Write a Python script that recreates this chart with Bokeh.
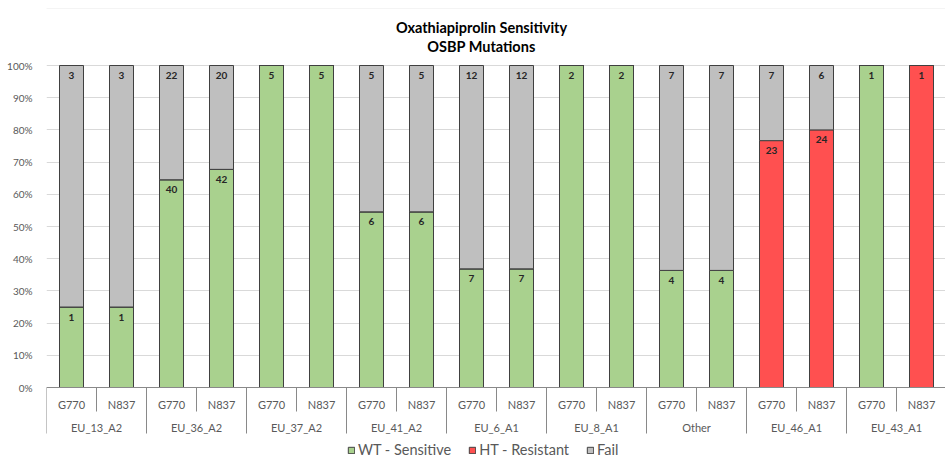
from bokeh.plotting import figure
from bokeh.models import (ColumnDataSource, Range1d, FixedTicker, NumeralTickFormatter,
                          Legend, LegendItem, Span, BoxAnnotation)
from bokeh.core.properties import value
from bokeh.embed import file_html
from bokeh.resources import INLINE

# ---------------- data ----------------
groups = ["EU_13_A2", "EU_36_A2", "EU_37_A2", "EU_41_A2", "EU_6_A1",
          "EU_8_A1", "Other", "EU_46_A1", "EU_43_A1"]
mutations = ["G770", "N837"]
wt_sensitive = [1, 1, 40, 42, 5, 5, 6, 6, 7, 7, 2, 2, 4, 4, 0, 0, 1, 0]
ht_resistant = [0, 0, 0, 0, 0, 0, 0, 0, 0, 0, 0, 0, 0, 0, 23, 24, 0, 1]
fail = [3, 3, 22, 20, 0, 0, 5, 5, 12, 12, 0, 0, 7, 7, 7, 6, 0, 0]
series_names = ["WT - Sensitive", "HT - Resistant", "Fail"]
series_colors = ["#a9d18e", "#ff5050", "#bfbfbf"]
title_lines = ["Oxathiapiprolin Sensitivity", "OSBP Mutations"]
y_ticks = [0, 0.1, 0.2, 0.3, 0.4, 0.5, 0.6, 0.7, 0.8, 0.9, 1.0]

FONT = "Lato"
PX = 322.0  # pixels per 100%
W, H = 945, 464
LEFT = 46

n = len(wt_sensitive)
xs = [i + 0.5 for i in range(n)]
totals = [a + b + c for a, b, c in zip(wt_sensitive, ht_resistant, fail)]
counts = [wt_sensitive, ht_resistant, fail]
fracs = [[c / t for c, t in zip(s, totals)] for s in counts]

bottoms, tops = [], []
acc = [0.0] * n
for f in fracs:
    b = list(acc)
    acc = [a + v for a, v in zip(acc, f)]
    bottoms.append(b)
    tops.append(list(acc))

p = figure(width=W, height=H, output_backend="svg", toolbar_location=None,
           x_range=Range1d(0, (W - LEFT) / 50.0),
           y_range=Range1d(-(H - 387) / PX, 1 + 65 / PX),
           min_border_left=LEFT, min_border_right=0, min_border_top=0, min_border_bottom=0,
           x_axis_location=None)
p.outline_line_color = None
p.background_fill_color = "white"
p.xgrid.grid_line_color = None
p.ygrid.ticker = FixedTicker(ticks=y_ticks[1:])
p.ygrid.grid_line_color = "#d9d9d9"
p.ygrid.grid_line_width = 1

p.yaxis.ticker = FixedTicker(ticks=y_ticks)
p.yaxis.formatter = NumeralTickFormatter(format="0%")
p.yaxis.axis_line_color = None
p.yaxis.major_tick_line_color = None
p.yaxis.minor_tick_line_color = None
p.yaxis.major_label_standoff = 8
p.yaxis.major_label_text_font = FONT
p.yaxis.major_label_text_font_size = "10px"
p.yaxis.major_label_text_color = "#595959"

renderers = []
for k in range(3):
    src = ColumnDataSource(dict(x=xs, bottom=bottoms[k], top=tops[k]))
    r = p.vbar(x="x", bottom="bottom", top="top", width=0.48, source=src,
               fill_color=series_colors[k], line_color="#404040", line_width=1)
    renderers.append(r)

# data labels (inside end)
lx, ly, lt = [], [], []
for k in range(3):
    for i in range(n):
        if counts[k][i] > 0:
            lx.append(xs[i])
            ly.append(tops[k][i])
            lt.append(str(counts[k][i]))
p.text(x=lx, y=ly, text=lt, text_align="center", text_baseline="middle", y_offset=10,
       text_font=value(FONT), text_font_style="bold", text_font_size="10px",
       text_color="#262626")

# category axis line
p.add_layout(Span(location=0, dimension="width", line_color="#898989", line_width=1))

# separators
sep_x0, sep_y1 = [], []
for k in range(n + 1):
    sep_x0.append(k)
    sep_y1.append(-46 / PX if k % 2 == 0 else -24 / PX)
p.segment(x0=sep_x0, y0=[0] * len(sep_x0), x1=sep_x0, y1=sep_y1,
          line_color="#898989", line_width=1)

# sub-category labels
sub_labels = [mutations[i % 2] for i in range(n)]
p.text(x=xs, y=[-17 / PX] * n, text=sub_labels, text_align="center", text_baseline="middle",
       text_font=value(FONT), text_font_size="11px", text_color="#595959")
# group labels
gx = [2 * g + 1 for g in range(len(groups))]
p.text(x=gx, y=[-40 / PX] * len(groups), text=groups, text_align="center",
       text_baseline="middle", text_font=value(FONT), text_font_size="11px",
       text_color="#595959")

# title
tx = (481 - LEFT) / 50.0
p.text(x=[tx, tx], y=[1 + 38 / PX, 1 + 19 / PX], text=title_lines, text_align="center",
       text_baseline="middle", text_font=value(FONT), text_font_style="bold",
       text_font_size="14.5px", text_color="#000000")

legend = Legend(items=[LegendItem(label=series_names[k], renderers=[renderers[k]]) for k in range(3)],
                orientation="horizontal", location=(301, 6), glyph_width=8, glyph_height=8,
                label_text_font=FONT, label_text_font_size="14.5px", label_text_color="#595959",
                label_standoff=3, spacing=17, padding=0, margin=0,
                border_line_color=None, background_fill_alpha=0, label_height=14)
p.add_layout(legend)

# chart-area border lines of the original screenshot
p.add_layout(BoxAnnotation(left=7, right=2000, top=8, bottom=2000,
                           left_units="canvas", right_units="canvas",
                           top_units="canvas", bottom_units="canvas",
                           fill_alpha=0, line_color="#d9d9d9", line_width=1, level="underlay"))

open("out.html", "w").write(file_html(p, INLINE))
